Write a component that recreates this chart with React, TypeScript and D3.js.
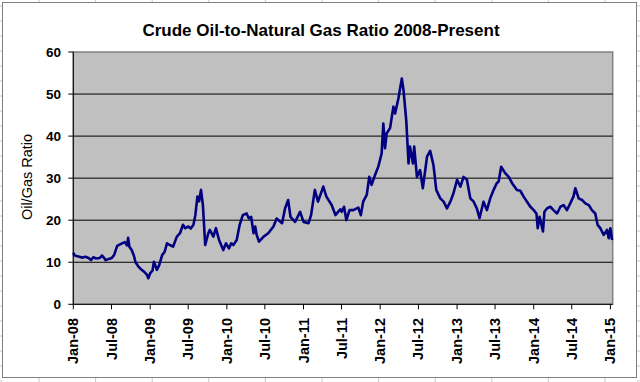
import React from "react";
import * as d3 from "d3";

const title = "Crude Oil-to-Natural Gas Ratio 2008-Present";
const yTitle = "Oil/Gas Ratio";
const yTicks = [0, 10, 20, 30, 40, 50, 60];
const xTickDates = [
  "2008-01-01", "2008-07-01", "2009-01-01", "2009-07-01", "2010-01-01", "2010-07-01",
  "2011-01-01", "2011-07-01", "2012-01-01", "2012-07-01", "2013-01-01", "2013-07-01",
  "2014-01-01", "2014-07-01", "2015-01-01",
];
const xTickLabels = [
  "Jan-08", "Jul-08", "Jan-09", "Jul-09", "Jan-10", "Jul-10", "Jan-11", "Jul-11",
  "Jan-12", "Jul-12", "Jan-13", "Jul-13", "Jan-14", "Jul-14", "Jan-15",
];

const dates = [
  "2008-01-02", "2008-01-05", "2008-01-16", "2008-01-30", "2008-02-14", "2008-02-28", "2008-03-14", "2008-03-25",
  "2008-04-05", "2008-04-19", "2008-05-05", "2008-05-17", "2008-05-27", "2008-06-03", "2008-06-18", "2008-07-02",
  "2008-07-13", "2008-07-28", "2008-08-08", "2008-08-20", "2008-09-02", "2008-09-13", "2008-09-18", "2008-09-24",
  "2008-10-05", "2008-10-16", "2008-10-23", "2008-11-07", "2008-11-21", "2008-12-06", "2008-12-17", "2008-12-23",
  "2009-01-01", "2009-01-12", "2009-01-19", "2009-02-02", "2009-02-13", "2009-02-27", "2009-03-11", "2009-03-22",
  "2009-04-05", "2009-04-20", "2009-05-08", "2009-05-23", "2009-06-06", "2009-06-17", "2009-07-02", "2009-07-13",
  "2009-07-26", "2009-08-04", "2009-08-14", "2009-08-22", "2009-08-31", "2009-09-09", "2009-09-20", "2009-09-27",
  "2009-10-05", "2009-10-12", "2009-10-29", "2009-11-10", "2009-11-25", "2009-12-06", "2009-12-15", "2009-12-28",
  "2010-01-11", "2010-01-22", "2010-02-01", "2010-02-17", "2010-03-03", "2010-03-18", "2010-04-05", "2010-04-16",
  "2010-04-27", "2010-05-08", "2010-05-16", "2010-05-23", "2010-06-03", "2010-06-25", "2010-07-17", "2010-08-11",
  "2010-08-26", "2010-09-21", "2010-10-05", "2010-10-20", "2010-10-31", "2010-11-22", "2010-12-16",
  "2011-01-01", "2011-01-25", "2011-02-06", "2011-02-24", "2011-03-11", "2011-04-05", "2011-04-20", "2011-05-15",
  "2011-06-02", "2011-06-25", "2011-07-02", "2011-07-13", "2011-07-24", "2011-08-08", "2011-08-26", "2011-09-19",
  "2011-10-01", "2011-10-12", "2011-10-29", "2011-11-10", "2011-11-21", "2011-12-07", "2011-12-23",
  "2012-01-08", "2012-01-16", "2012-01-24", "2012-02-01", "2012-02-17", "2012-03-04", "2012-03-12", "2012-03-28",
  "2012-04-13", "2012-04-21", "2012-05-04", "2012-05-15", "2012-05-22", "2012-06-05", "2012-06-11", "2012-06-24",
  "2012-07-09", "2012-07-22", "2012-08-11", "2012-08-26", "2012-09-11", "2012-09-24", "2012-10-13", "2012-10-29",
  "2012-11-14", "2012-11-30", "2012-12-15",
  "2013-01-01", "2013-01-17", "2013-02-01", "2013-02-17", "2013-03-05", "2013-03-21", "2013-04-05", "2013-04-18",
  "2013-05-07", "2013-05-23", "2013-06-08", "2013-06-24", "2013-07-09", "2013-07-18", "2013-07-30", "2013-08-18",
  "2013-09-04", "2013-09-20", "2013-10-13", "2013-10-29", "2013-11-14", "2013-11-30", "2013-12-16",
  "2014-01-01", "2014-01-14", "2014-01-20", "2014-01-29", "2014-02-05", "2014-02-14", "2014-02-21", "2014-03-05",
  "2014-03-21", "2014-04-05", "2014-04-22", "2014-05-08", "2014-05-23", "2014-06-08", "2014-06-24", "2014-07-09",
  "2014-07-18", "2014-08-03", "2014-08-19", "2014-09-04", "2014-09-20", "2014-10-05", "2014-10-21", "2014-11-01",
  "2014-11-14", "2014-11-30", "2014-12-16", "2014-12-24", "2015-01-01", "2015-01-09",
];

const ratios = [
  12.3, 11.7, 11.5, 11.3, 11.1, 11.3, 11.0, 10.5,
  11.2, 10.9, 11.0, 11.6, 11.0, 10.5, 10.8, 11.0,
  11.7, 13.9, 14.2, 14.5, 14.8, 14.0, 15.8, 13.7,
  12.9, 11.5, 10.0, 8.9, 8.2, 7.6, 7.0, 6.2,
  7.4, 8.0, 10.1, 8.2, 9.3, 11.7, 12.5, 14.5,
  14.1, 13.7, 16.1, 16.9, 18.9, 18.1, 18.5, 18.0,
  18.9, 21.2, 25.6, 24.5, 27.2, 23.6, 14.1, 15.5,
  16.9, 17.7, 16.1, 18.1, 15.3, 14.0, 12.9, 14.5,
  13.3, 14.5, 14.1, 15.3, 18.9, 21.2, 21.6, 20.4,
  20.8, 16.9, 18.5, 16.5, 14.9, 16.1, 16.9, 18.5,
  20.4, 19.3, 22.8, 24.8, 20.8, 19.6, 22.0,
  19.6, 19.3, 21.2, 27.2, 24.4, 28.0, 25.6, 23.6,
  21.2, 22.6, 22.0, 23.2, 20.0, 22.4, 22.4, 23.0,
  21.2, 24.4, 26.0, 30.3, 28.4, 30.7, 32.7,
  35.9, 43.0, 37.1, 40.7, 41.9, 47.0, 45.4, 49.0,
  53.7, 51.0, 43.8, 33.5, 37.5, 33.5, 37.5, 30.3,
  31.9, 27.6, 35.1, 36.5, 33.0, 27.2, 25.2, 24.4,
  22.8, 24.4, 26.4,
  29.6, 28.0, 30.3, 29.6, 25.2, 24.4, 22.8, 20.5,
  24.4, 22.4, 25.2, 27.2, 28.8, 29.2, 32.7, 31.2,
  30.3, 28.8, 27.2, 27.0, 25.6, 24.4, 23.2,
  22.4, 21.6, 18.1, 20.8, 19.3, 17.3, 22.0, 22.8,
  23.2, 22.4, 21.6, 23.2, 23.6, 22.4, 24.0, 25.6,
  27.6, 25.2, 24.8, 24.0, 23.6, 22.4, 21.6, 18.9,
  18.1, 16.5, 17.7, 15.7, 18.1, 15.3,
];

const W = 640;
const H = 382;
const plotLeft = 73.3;
const plotRight = 612.7;
const plotTop = 52;
const plotBottom = 304.3;
const font = "'Liberation Sans', Arial, sans-serif";

export default function App() {
  const parse = d3.timeParse("%Y-%m-%d");
  const x = d3
    .scaleTime()
    .domain([parse("2008-01-01")!, parse("2015-01-12")!])
    .range([plotLeft, plotRight]);
  const y = d3.scaleLinear().domain([0, 60]).range([plotBottom, plotTop]);

  const pts = dates.map((d, i) => ({ date: parse(d)!, v: ratios[i] }));
  const line = d3
    .line<{ date: Date; v: number }>()
    .x((p) => x(p.date))
    .y((p) => y(p.v));

  const colXs = d3.range(39, 640, 56.6);
  const rowYs = d3.range(6, 382, 15);

  return (
    <svg
      width={W}
      height={H}
      style={{ position: "absolute", left: 0, top: 0, background: "#fff" }}
      fontFamily={font}
    >
      <rect x={0} y={0} width={W} height={H} fill="#fff" />
      {colXs.map((cx, i) => (
        <g key={"c" + i}>
          <line x1={cx} x2={cx} y1={0} y2={3} stroke="#c8c8c8" />
          <line x1={cx} x2={cx} y1={378} y2={382} stroke="#c8c8c8" />
        </g>
      ))}
      {rowYs.map((ry, i) => (
        <g key={"r" + i}>
          <line x1={0} x2={2.5} y1={ry} y2={ry} stroke="#c8c8c8" />
          <line x1={637} x2={640} y1={ry} y2={ry} stroke="#c8c8c8" />
        </g>
      ))}
      <rect x={2.5} y={2.5} width={634} height={375} fill="#fff" stroke="#7f7f7f" />

      <text x={321} y={36} textAnchor="middle" fontSize={17} fontWeight="bold" fill="#000">
        {title}
      </text>

      <rect
        x={plotLeft}
        y={plotTop}
        width={plotRight - plotLeft}
        height={plotBottom - plotTop}
        fill="#c0c0c0"
        stroke="#808080"
        strokeWidth={1.5}
      />
      {yTicks
        .filter((t) => t > 0 && t < 60)
        .map((t) => (
          <line
            key={"g" + t}
            x1={plotLeft}
            x2={plotRight}
            y1={y(t)}
            y2={y(t)}
            stroke="#000"
            strokeWidth={1}
          />
        ))}

      <path
        d={line(pts) || ""}
        fill="none"
        stroke="#000080"
        strokeWidth={2.6}
        strokeLinejoin="round"
      />

      <line x1={plotLeft} x2={plotLeft} y1={plotTop} y2={plotBottom} stroke="#000" />
      <line x1={plotLeft} x2={plotRight} y1={plotBottom} y2={plotBottom} stroke="#000" />

      {yTicks.map((t) => (
        <g key={"yt" + t}>
          <line x1={plotLeft - 5} x2={plotLeft} y1={y(t)} y2={y(t)} stroke="#000" />
          <text
            x={61}
            y={y(t)}
            dy="0.35em"
            textAnchor="end"
            fontSize={13.5}
            fontWeight="bold"
            fill="#000"
          >
            {t}
          </text>
        </g>
      ))}

      {xTickDates.map((d, i) => {
        const xx = x(parse(d)!);
        return (
          <g key={"xt" + i}>
            <line x1={xx} x2={xx} y1={plotBottom} y2={plotBottom + 5} stroke="#000" />
            <text
              transform={`translate(${xx},318) rotate(-90)`}
              dy="0.35em"
              textAnchor="end"
              fontSize={14.5}
              fontWeight="bold"
              fill="#000"
            >
              {xTickLabels[i]}
            </text>
          </g>
        );
      })}

      <text
        transform={`translate(27,177) rotate(-90)`}
        dy="0.35em"
        textAnchor="middle"
        fontSize={14.5}
        fill="#000"
      >
        {yTitle}
      </text>
    </svg>
  );
}
